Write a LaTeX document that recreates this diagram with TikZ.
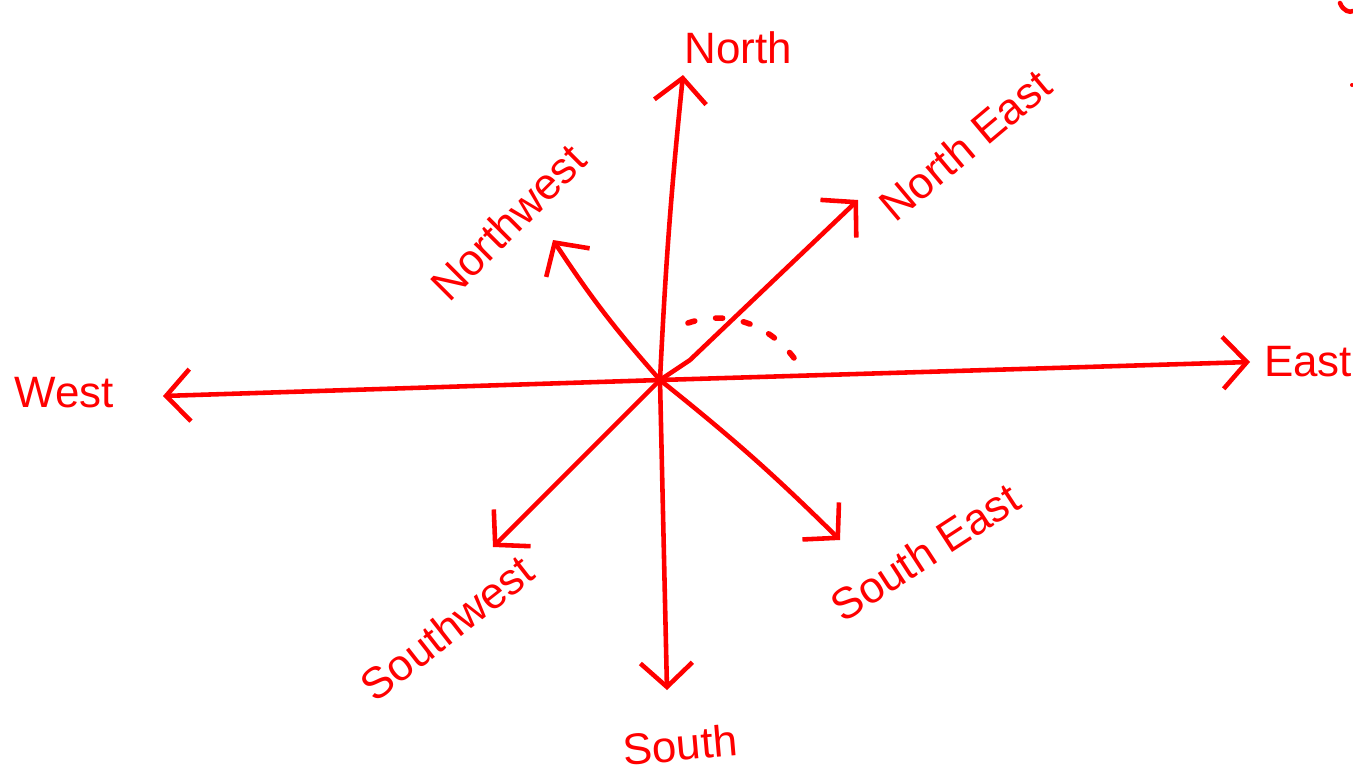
\documentclass[tikz,border=0pt]{standalone}
\usepackage{fontspec}
\setmainfont{Liberation Sans}
\usepackage{tikz}
\usetikzlibrary{arrows.meta, positioning}

\begin{document}
\begin{tikzpicture}[
    every node/.style={font=\fontsize{12.5}{15}\selectfont, text=red},
    dirlabel/.style={inner sep=1pt},
    dirarrow/.style={-{Straight Barb[length=2.4mm, width=5.2mm]}, red, line width=1.3pt, line cap=round},
    pen/.style={red, line width=1.3pt, line cap=round},
]
\useasboundingbox (0,0) rectangle (13.53,7.81);

% Points
\coordinate (o) at (6.60,4.01);
\coordinate (ntip) at (6.83,7.06);
\coordinate (stip) at (6.67,0.91);
\coordinate (etip) at (12.50,4.19);
\coordinate (wtip) at (1.63,3.85);
\coordinate (netip) at (8.58,5.81);
\coordinate (nwtip) at (5.53,5.41);
\coordinate (swtip) at (4.93,2.34);
\coordinate (setip) at (8.40,2.41);

% Labels
\node (north) [dirlabel] at (7.38,7.33) {North};
\node (northeast) [dirlabel, rotate=40] at (9.65,6.36) {North East};
\node (northwest) [dirlabel, rotate=45] at (5.08,5.59) {Northwest};
\node (east) [dirlabel] at (13.08,4.19) {East};
\node (west) [dirlabel] at (0.64,3.88) {West};
\node (south) [dirlabel, rotate=5] at (6.80,0.36) {South};
\node (southeast) [dirlabel, rotate=33] at (9.25,2.29) {South East};
\node (southwest) [dirlabel, rotate=38] at (4.47,1.53) {Southwest};

% Arrows
\draw [dirarrow] (o) to[bend left=1.5] (ntip);
\draw [dirarrow] (o) -- (stip);
\draw [dirarrow] (o) -- (etip);
\draw [dirarrow] (o) -- (wtip);
\draw [dirarrow] (o) -- (6.90,4.21) -- (netip);
\draw [dirarrow] (o) to[bend left=4] (nwtip);
\draw [dirarrow] (o) -- (swtip);
\draw [dirarrow] (o) to[bend left=3] (setip);

% angle mark
\draw [pen, line width=1.6pt, dash pattern=on 2pt off 6pt] (6.88,4.58) .. controls (7.30,4.72) and (7.70,4.55) .. (7.94,4.23);

% stray marks at the corner
\draw [pen] (13.40,7.78) .. controls (13.43,7.70) and (13.50,7.68) .. (13.53,7.70);
\fill [red] (13.52,6.96) circle (0.02);
\end{tikzpicture}
\end{document}
